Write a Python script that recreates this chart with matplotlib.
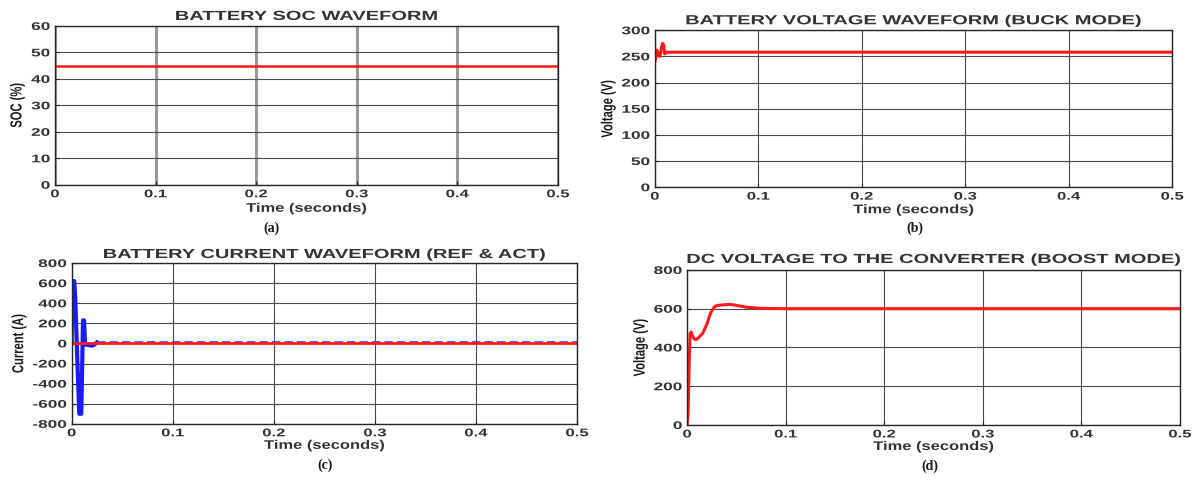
import matplotlib
matplotlib.use("Agg")
import matplotlib.pyplot as plt
from matplotlib.patheffects import AbstractPathEffect
from matplotlib.transforms import Affine2D

# ---------------- data ----------------
x_ticks = [0, 0.1, 0.2, 0.3, 0.4, 0.5]
x_tick_labels = ["0", "0.1", "0.2", "0.3", "0.4", "0.5"]

soc_t = [0.0, 0.5]
soc_v = [45, 45]

vb_t = [0.0, 0.001, 0.002, 0.0035, 0.005, 0.0065, 0.0075, 0.0085, 0.0095, 0.0105, 0.011, 0.5]
vb_v = [240, 248, 262, 252, 250, 268, 275, 272, 255, 256, 258, 258]

ic_t = [0.0, 0.0004, 0.0025, 0.0035, 0.0055, 0.0075, 0.0095, 0.0105, 0.0112, 0.0122, 0.0132, 0.016, 0.02, 0.022, 0.025]
ic_v = [0, 620, 620, 450, -150, -700, -700, -150, 230, 230, -10, -15, -22, -15, 10]
ic_ss_t = [0.025, 0.5]
ic_ss_v = [14, 14]
iref_t = [0.0, 0.5]
iref_v = [0, 0]

vd_t = [0.0, 0.001, 0.002, 0.003, 0.004, 0.005, 0.007, 0.009, 0.012, 0.016, 0.02,
        0.024, 0.028, 0.032, 0.038, 0.043, 0.05, 0.06, 0.075, 0.1, 0.5]
vd_v = [0, 60, 300, 470, 480, 465, 445, 440, 452, 475, 520,
        580, 612, 618, 620, 623, 617, 608, 602, 600, 600]


# ---------------- horizontal stretch effect for text ----------------
class Stretch(AbstractPathEffect):
    def __init__(self, sx, anchor="center"):
        super().__init__()
        self.sx = sx
        self.anchor = anchor

    def draw_path(self, renderer, gc, tpath, affine, rgbFace=None):
        ext = tpath.get_extents()
        if self.anchor == "right":
            cx = ext.x1
        elif self.anchor == "left":
            cx = ext.x0
        else:
            cx = 0.5 * (ext.x0 + ext.x1)
        t = Affine2D().translate(-cx, 0).scale(self.sx, 1).translate(cx, 0) + affine
        renderer.draw_path(gc, tpath, t, rgbFace)


DARK = "#262626"
TXT = "#333333"
plt.rcParams["font.family"] = ["Liberation Sans", "DejaVu Sans"]

W, H = 1195, 480
fig = plt.figure(figsize=(W / 100, H / 100), dpi=100)


def style_axes(ax, yticks, ylabel, title, ylab_px, xlab_px, title_pad, heavy_vgrid=False):
    pos = ax.get_position()
    ax_w = pos.width * W
    ax_h = pos.height * H
    ax.set_xlim(0, 0.5)
    ax.set_ylim(yticks[0], yticks[-1])
    ax.set_xticks(x_ticks)
    ax.set_xticklabels(x_tick_labels)
    ax.set_yticks(yticks)
    ax.set_yticklabels([str(v) for v in yticks])
    ax.tick_params(axis="x", direction="in", length=3, width=0.8, colors=DARK, pad=3.2)
    ax.tick_params(axis="y", direction="in", length=3, width=0.8, colors=DARK, pad=3.5)
    for lab in ax.get_xticklabels():
        lab.set_fontweight("bold")
        lab.set_fontsize(8)
        lab.set_color(TXT)
        lab.set_path_effects([Stretch(1.5, "center")])
    for lab in ax.get_yticklabels():
        lab.set_fontweight("bold")
        lab.set_fontsize(8)
        lab.set_color(TXT)
        lab.set_path_effects([Stretch(1.55, "right")])
    ax.yaxis.grid(True, color="#4a4a4a", linewidth=0.8)
    if heavy_vgrid:
        ax.xaxis.grid(True, color="#9a9a9a", linewidth=2.2)
    else:
        ax.xaxis.grid(True, color="#4a4a4a", linewidth=0.8)
    ax.set_axisbelow(True)
    for s in ax.spines.values():
        s.set_color(DARK)
        s.set_linewidth(1.0)
    xl = ax.set_xlabel("Time (seconds)", fontsize=9, fontweight="bold", color=TXT)
    xl.set_path_effects([Stretch(1.32)])
    xl.set_va("center")
    ax.xaxis.set_label_coords(0.5, -xlab_px / ax_h)
    yl = ax.set_ylabel(ylabel, fontsize=11.5, fontweight="bold", color="#1a1a1a")
    yl.set_path_effects([Stretch(0.7)])
    yl.set_va("center")
    ax.yaxis.set_label_coords(-ylab_px / ax_w, 0.5)
    tt = ax.set_title(title, fontsize=9.5, fontweight="bold", color=TXT, pad=title_pad)
    tt.set_path_effects([Stretch(1.52)])


# (a)
ax1 = fig.add_axes([0.046, 0.615, 0.421, 0.331])
ax1.plot(soc_t, soc_v, color="#ff1a1a", linewidth=1.8)
style_axes(ax1, [0, 10, 20, 30, 40, 50, 60], "SOC (%)", "BATTERY SOC WAVEFORM",
           ylab_px=38, xlab_px=24, title_pad=4.3, heavy_vgrid=True)

# (b)
ax2 = fig.add_axes([0.548, 0.610, 0.433, 0.327])
ax2.plot(vb_t, vb_v, color="#ff1a1a", linewidth=2.2)
style_axes(ax2, [0, 50, 100, 150, 200, 250, 300], "Voltage (V)", "BATTERY VOLTAGE WAVEFORM (BUCK MODE)",
           ylab_px=47, xlab_px=23, title_pad=4.3)

# (c)
ax3 = fig.add_axes([0.060, 0.117, 0.423, 0.335])
ax3.plot(ic_t, ic_v, color="#1a1aff", linewidth=3.0)
ax3.plot(ic_ss_t, ic_ss_v, color="#3a3aff", linewidth=1.5, linestyle=(0, (4, 2)), alpha=0.8)
ax3.plot(iref_t, iref_v, color="#ff1a1a", linewidth=2.0)
style_axes(ax3, [-800, -600, -400, -200, 0, 200, 400, 600, 800], "Current (A)",
           "BATTERY CURRENT WAVEFORM (REF & ACT)", ylab_px=53, xlab_px=22, title_pad=3.6)

# (d)
ax4 = fig.add_axes([0.575, 0.1146, 0.4125, 0.323])
ax4.plot(vd_t, vd_v, color="#ff1a1a", linewidth=2.2)
style_axes(ax4, [0, 200, 400, 600, 800], "Voltage (V)", "DC VOLTAGE TO THE CONVERTER (BOOST MODE)",
           ylab_px=47, xlab_px=22, title_pad=5.0)

# captions
cap = dict(family="Liberation Serif", fontsize=10, fontweight="bold", ha="center", va="center", color="#1a1a1a")
fig.text(272 / W, 1 - 228 / H, "(a)", **cap)
fig.text(915 / W, 1 - 228 / H, "(b)", **cap)
fig.text(325 / W, 1 - 465 / H, "(c)", **cap)
fig.text(930 / W, 1 - 466 / H, "(d)", **cap)

fig.savefig("out.png", dpi=100)
